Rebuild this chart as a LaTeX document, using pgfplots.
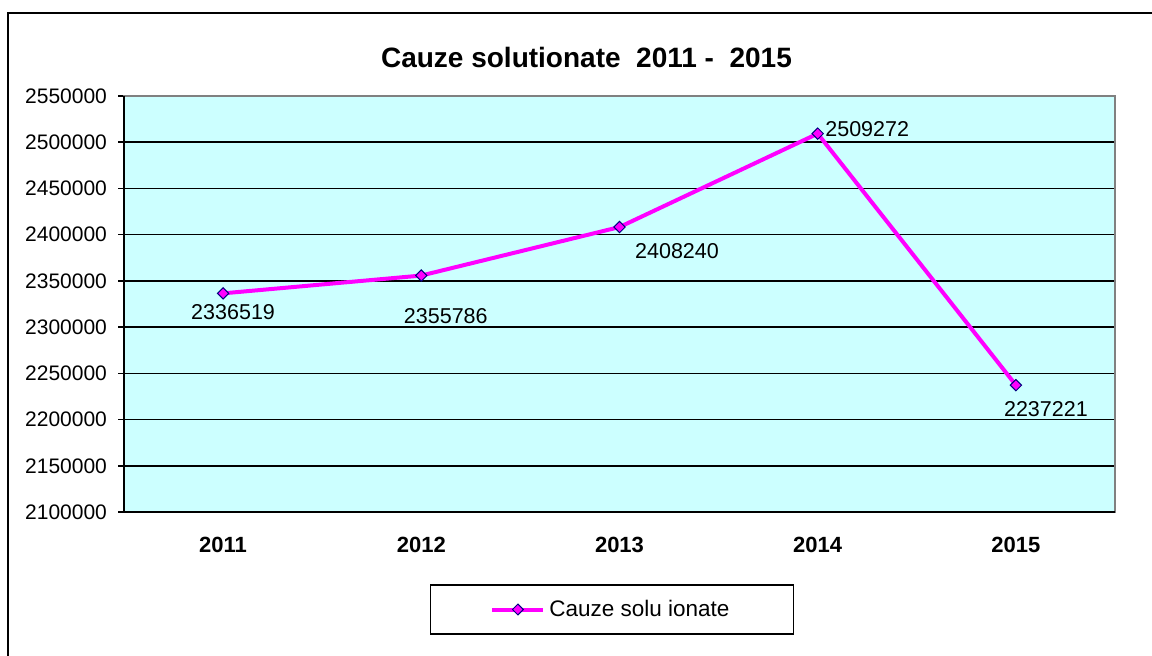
\documentclass[border=0pt]{standalone}
\usepackage{pgfplots}
\pgfplotsset{compat=1.18}
\usepackage{fontspec}
\setmainfont{Liberation Sans}
\definecolor{bgcyan}{HTML}{CCFFFF}
\definecolor{mag}{HTML}{FF00FF}
\definecolor{navyedge}{HTML}{000080}
\begin{document}
\begin{tikzpicture}[x=1pt,y=1pt]
\useasboundingbox (0,0) rectangle (576,327.5);
% outer chart frame
\draw[line width=0.75pt] (4,-20) -- (4,321) -- (600,321);
% title
\node[anchor=base,font=\bfseries\fontsize{14}{16}\selectfont] at (293.25,294) {Cauze solutionate\ \ 2011 -\ \ 2015};
\begin{axis}[
  at={(62pt,71.5pt)}, anchor=south west,
  scale only axis, width=495.5pt, height=208pt,
  xmin=0.5, xmax=5.5, ymin=2100000, ymax=2550000,
  axis background/.style={fill=bgcyan},
  axis line style={draw=gray, line width=0.75pt},
  xtick pos=bottom, ytick pos=left,
  xtick={1,2,3,4,5},
  xticklabels={2011,2012,2013,2014,2015},
  x tick label style={font=\bfseries\fontsize{11}{13}\selectfont, yshift=-6pt},
  major x tick style={draw=none},
  extra x ticks={1.5,2.5,3.5,4.5,5.5},
  extra x tick labels={},
  extra x tick style={major tick length=3pt, tick align=outside, major tick style={draw=black, line width=0.75pt}},
  ytick distance=50000,
  scaled y ticks=false,
  y tick label style={font=\fontsize{10.5}{12}\selectfont, xshift=-2pt},
  yticklabel style={/pgf/number format/fixed, /pgf/number format/1000 sep={}, /pgf/number format/assume math mode=true},
  tick align=outside, major tick length=3pt,
  tick style={black, line width=0.75pt},
  ymajorgrids, grid style={black, line width=0.75pt},
  clip=false,
  legend style={at={(0.4924,-0.2344)}, anchor=center, draw=black, line width=0.75pt,
    inner xsep=30pt, inner ysep=5.5pt, font=\fontsize{11.25}{13}\selectfont},
  legend cell align=left,
  legend image code/.code={
    \draw[mag, line width=2pt] (0pt,0pt) -- (25.5pt,0pt);
    \draw[navyedge, fill=mag, line width=0.5pt] (12.75pt,2.7pt) -- (15.45pt,0pt) -- (12.75pt,-2.7pt) -- (10.05pt,0pt) -- cycle;
  },
]
\addplot[mag, line width=2pt, mark=square*, mark size=2pt,
  mark options={rotate=45, draw=navyedge, fill=mag, line width=0.5pt}]
  coordinates {(1,2336519) (2,2355786) (3,2408240) (4,2509272) (5,2237221)};
\addlegendentry{Cauze solu ionate}
\draw[black, line width=0.75pt] (rel axis cs:0,1) -- (rel axis cs:0,0) -- (rel axis cs:1,0);
\begin{scope}[every node/.style={font=\fontsize{10.75}{12}\selectfont, inner sep=0pt}]
\node[xshift=5pt,yshift=-9.25pt] at (axis cs:1,2336519) {2336519};
\node[xshift=12.25pt,yshift=-20.5pt] at (axis cs:2,2355786) {2355786};
\node[xshift=28.75pt,yshift=-12pt] at (axis cs:3,2408240) {2408240};
\node[xshift=24.75pt,yshift=2.25pt] at (axis cs:4,2509272) {2509272};
\node[xshift=15pt,yshift=-11.75pt] at (axis cs:5,2237221) {2237221};
\end{scope}
\end{axis}
\end{tikzpicture}
\end{document}
